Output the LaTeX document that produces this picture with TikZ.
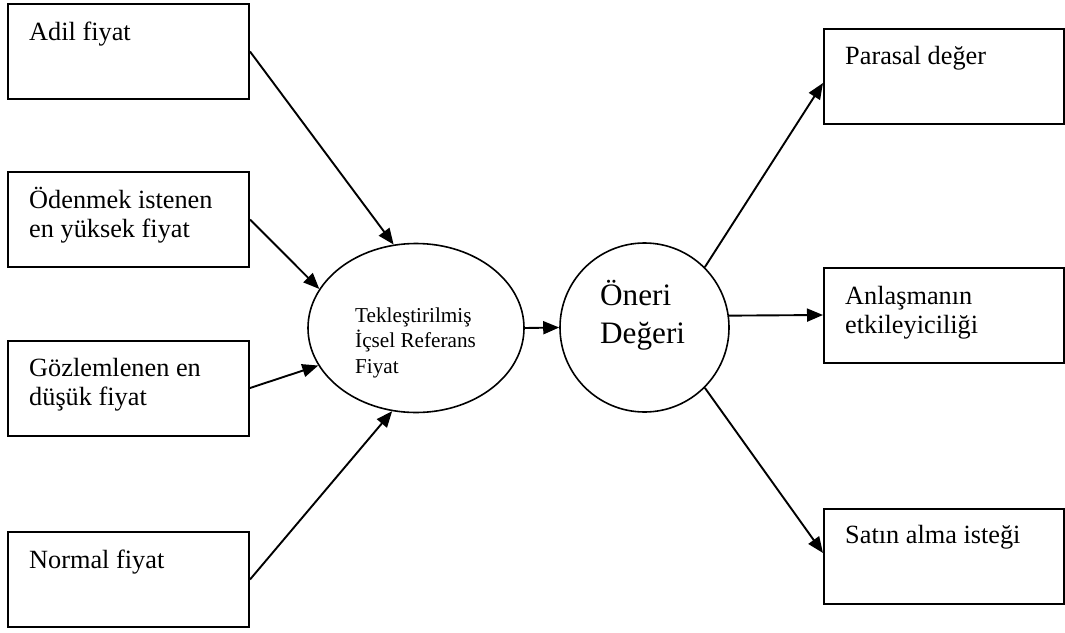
\documentclass[tikz,border=0pt]{standalone}
\usepackage{fontspec}
\setmainfont{Liberation Serif}
\usetikzlibrary{arrows.meta,shapes.geometric}
\begin{document}
\begin{tikzpicture}[x=1pt,y=-1pt,
  box/.style={draw,line width=2pt,rectangle,minimum width=241pt,minimum height=95pt,inner sep=0pt},
  lbl/.style={anchor=base west,inner sep=0pt,align=left,font=\fontsize{26.3}{29}\selectfont},
  arr/.style={line width=1.9pt,-{Triangle[length=16pt,width=13pt]}}
]
\useasboundingbox (0,0) rectangle (1065,632);
% left boxes
\node[box] (L1) at (128.5,51.5) {};
\node[box] (L2) at (128.5,219.5) {};
\node[box] (L3) at (128.5,388) {};
\node[box] (L4) at (128.5,579.5) {};
\node[lbl] (t1) at (29,40) {Adil fiyat};
\node[lbl] (t2) at (29,237) {Ödenmek istenen\\en yüksek fiyat};
\node[lbl] (t3) at (29,405) {Gözlemlenen en\\düşük fiyat};
\node[lbl] (t4) at (29,568) {Normal fiyat};
% right boxes
\node[box,minimum width=240pt] (R1) at (944,76) {};
\node[box,minimum width=240pt] (R2) at (944,315) {};
\node[box,minimum width=240pt] (R3) at (944,556) {};
\node[lbl] (r1) at (845,64) {Parasal değer};
\node[lbl] (r2) at (845,333) {Anlaşmanın\\etkileyiciliği};
\node[lbl] (r3) at (845,543) {Satın alma isteği};
% ellipse and circle
\node[draw,ellipse,line width=1.6pt,minimum width=216pt,minimum height=169pt,inner sep=0pt] (E) at (416,328) {};
\node[draw,circle,line width=1.6pt,minimum size=169pt,inner sep=0pt] (C) at (644.5,327.5) {};
\node[anchor=base west,inner sep=0pt,align=left,font=\fontsize{21.2}{25.5}\selectfont] (te) at (355,373) {Tekleştirilmiş\\İçsel Referans\\Fiyat};
\node[anchor=base west,inner sep=0pt,align=left,font=\fontsize{31.2}{38}\selectfont] (tc) at (600,343) {Öneri\\Değeri};
% connectors
\draw[arr] (L1.east) -- (E.105.5);
\draw[arr] (L2.east) -- (E.158.4);
\draw[arr] (L3.east) -- (E.201.2);
\draw[arr] (L4.east) -- (E.254);
\draw[arr] (E.east) -- (C.west);
\draw[arr] (C.45) -- ([yshift=-7pt]R1.west);
\draw[arr] (C.8.5) -- (R2.west);
\draw[arr] (C.-45) -- ([yshift=3pt]R3.west);
\end{tikzpicture}
\end{document}
